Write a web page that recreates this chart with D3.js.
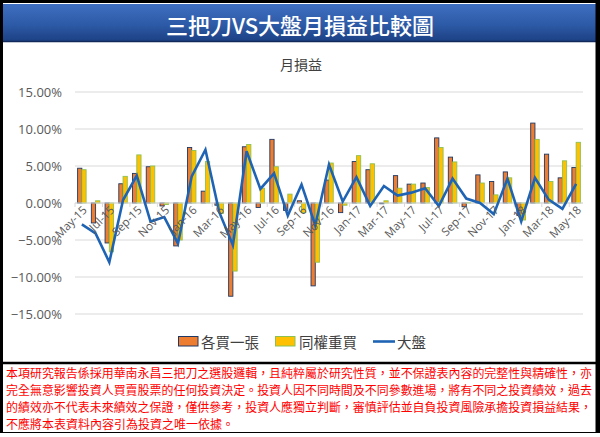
<!DOCTYPE html>
<html><head><meta charset="utf-8">
<script src="https://cdn.jsdelivr.net/npm/d3@7"></script>
<style>
html,body{margin:0;padding:0;background:#fff;}
svg{display:block;}
</style></head>
<body>
<svg id="chart" width="600" height="437"></svg>
<script>
const months = ["May-15","Jun-15","Jul-15","Aug-15","Sep-15","Oct-15","Nov-15","Dec-15","Jan-16","Feb-16","Mar-16","Apr-16","May-16","Jun-16","Jul-16","Aug-16","Sep-16","Oct-16","Nov-16","Dec-16","Jan-17","Feb-17","Mar-17","Apr-17","May-17","Jun-17","Jul-17","Aug-17","Sep-17","Oct-17","Nov-17","Dec-17","Jan-18","Feb-18","Mar-18","Apr-18","May-18"];
const eachBuy = [4.7,-2.7,-5.4,2.6,4.0,4.9,-0.4,-5.8,7.5,1.6,-0.3,-12.6,7.6,-0.6,8.6,-1.0,0.3,-11.2,3.1,-1.3,5.6,4.5,-0.1,3.7,2.55,2.7,8.8,6.2,-0.5,3.8,2.9,4.2,-1.7,10.8,6.6,3.4,4.8];
const equalWeight = [4.5,0.3,-6.6,3.6,6.5,5.0,-0.2,-5.0,7.1,5.6,-1.4,-9.2,7.9,2.0,4.9,1.2,-1.3,-8.0,5.4,-0.3,6.4,5.3,0.3,2.0,2.55,2.1,7.5,5.55,0.05,2.7,1.1,3.4,-2.3,8.6,2.9,5.7,8.2];
const market = [-2.9,-4.1,-8.0,0.4,3.7,-2.5,-1.9,-5.5,3.6,7.2,-1.2,-5.7,7.0,1.9,4.0,-1.7,2.5,-3.0,5.2,0.2,3.5,-0.4,2.3,1.0,1.4,2.0,-0.4,3.3,0.6,0.0,-1.5,3.3,-2.5,3.4,0.45,-0.8,2.6];
const yTicks = [-15,-10,-5,0,5,10,15];
const seriesNames = ["各買一張","同權重買","大盤"];
const bannerTitle = "三把刀VS大盤月損益比較圖";
const chartTitle = "月損益";
const disclaimer = [
 "本項研究報告係採用華南永昌三把刀之選股邏輯，且純粹屬於研究性質，並不保證表內容的完整性與精確性，亦",
 "完全無意影響投資人買賣股票的任何投資決定。投資人因不同時間及不同參數進場，將有不同之投資績效，過去",
 "的績效亦不代表未來績效之保證，僅供參考，投資人應獨立判斷，審慎評估並自負投資風險承擔投資損益結果，",
 "不應將本表資料內容引為投資之唯一依據。"
];

const svg = d3.select("#chart");
const cjk = "'Noto Sans CJK TC','Noto Sans CJK SC',sans-serif";
const latin = "'Open Sans','Segoe UI','Noto Sans',sans-serif";

// gradient banner
const defs = svg.append("defs");
const g1 = defs.append("linearGradient").attr("id","ban").attr("x1",0).attr("y1",0).attr("x2",0).attr("y2",1);
g1.append("stop").attr("offset","0%").attr("stop-color","#3f6fc2");
g1.append("stop").attr("offset","55%").attr("stop-color","#2d5aa6");
g1.append("stop").attr("offset","100%").attr("stop-color","#1b3f82");

svg.append("rect").attr("x",0).attr("y",0).attr("width",600).attr("height",437).attr("fill","#fff");
svg.append("rect").attr("x",2).attr("y",4).attr("width",594).attr("height",38).attr("fill","url(#ban)");
svg.append("line").attr("x1",2).attr("x2",596).attr("y1",41.5).attr("y2",41.5).attr("stroke","#10295a").attr("stroke-width",1.5);
svg.append("text").attr("x",300).attr("y",24).attr("text-anchor","middle").attr("dominant-baseline","central")
  .attr("fill","#fff").attr("font-family",cjk).attr("font-size",22).attr("font-weight",500).text(bannerTitle);

// chart title
svg.append("text").attr("x",301).attr("y",64).attr("text-anchor","middle").attr("dominant-baseline","central")
  .attr("fill","#404040").attr("font-family",cjk).attr("font-size",14).text(chartTitle);

const x = d3.scaleBand().domain(months).range([75,583]).padding(0);
const y = d3.scaleLinear().domain([-15,15]).range([314,92]);

// gridlines
svg.append("g").selectAll("line").data(yTicks).join("line")
  .attr("x1",75).attr("x2",583).attr("y1",d=>y(d)).attr("y2",d=>y(d))
  .attr("stroke","#d9d9d9").attr("stroke-width",1);

// y axis labels
const yAxis = d3.axisLeft(y).tickValues(yTicks).tickSize(0).tickPadding(0).tickFormat(d=>d3.format(".2f")(d)+"%");
const ya = svg.append("g").attr("transform","translate(62,0)").call(yAxis);
ya.select(".domain").remove();
ya.selectAll("text").attr("font-family",latin).attr("font-size",13).attr("fill","#595959");

// bars
const step = x.step();
const bw = step*0.31;
const bars = svg.append("g");
bars.selectAll("rect.o").data(months).join("rect").attr("class","o")
  .attr("x",(d)=>x(d)+step/2-bw)
  .attr("width",bw)
  .attr("y",(d,i)=>y(Math.max(0,eachBuy[i])))
  .attr("height",(d,i)=>Math.abs(y(eachBuy[i])-y(0)))
  .attr("fill","#ed7d31").attr("stroke","#203864").attr("stroke-width",0.9);
bars.selectAll("rect.yl").data(months).join("rect").attr("class","yl")
  .attr("x",(d)=>x(d)+step/2)
  .attr("width",bw)
  .attr("y",(d,i)=>y(Math.max(0,equalWeight[i])))
  .attr("height",(d,i)=>Math.abs(y(equalWeight[i])-y(0)))
  .attr("fill","#ffc000").attr("stroke","#8cc152").attr("stroke-width",0.9);

// x axis line & ticks
svg.append("line").attr("x1",75).attr("x2",583).attr("y1",y(0)).attr("y2",y(0)).attr("stroke","#d9d9d9");
const tickIdx = d3.range(0,months.length+1,2);
svg.append("g").selectAll("line").data(tickIdx).join("line")
  .attr("x1",i=>75+i*step).attr("x2",i=>75+i*step).attr("y1",y(0)).attr("y2",y(0)+4)
  .attr("stroke","#d9d9d9");

// line
const line = d3.line().x((d,i)=>x(months[i])+step/2).y(d=>y(d));
svg.append("path").datum(market).attr("d",line).attr("fill","none")
  .attr("stroke","#1f64b4").attr("stroke-width",2.6).attr("stroke-linejoin","miter");

// x labels
svg.append("g").selectAll("text").data(months.filter((d,i)=>i%2===0)).join("text")
  .attr("transform",d=>`translate(${x(d)+step/2+3},${y(0)+5}) rotate(-45)`)
  .attr("text-anchor","end").attr("dy","0.35em")
  .attr("font-family",latin).attr("font-size",11.5).attr("fill","#595959").text(d=>d);

// legend
const lg = svg.append("g");
lg.append("rect").attr("x",178.5).attr("y",336.5).attr("width",19.5).attr("height",9.5).attr("fill","#ed7d31").attr("stroke","#203864").attr("stroke-width",1);
lg.append("text").attr("x",201).attr("y",341.5).attr("dominant-baseline","central").attr("font-family",cjk).attr("font-size",14.5).attr("fill","#404040").text(seriesNames[0]);
lg.append("rect").attr("x",275.5).attr("y",336.5).attr("width",19.5).attr("height",9.5).attr("fill","#ffc000").attr("stroke","#8cc152").attr("stroke-width",1);
lg.append("text").attr("x",299).attr("y",341.5).attr("dominant-baseline","central").attr("font-family",cjk).attr("font-size",14.5).attr("fill","#404040").text(seriesNames[1]);
lg.append("line").attr("x1",373).attr("x2",395).attr("y1",341.5).attr("y2",341.5).attr("stroke","#1f64b4").attr("stroke-width",2.6);
lg.append("text").attr("x",397).attr("y",341.5).attr("dominant-baseline","central").attr("font-family",cjk).attr("font-size",14.5).attr("fill","#404040").text(seriesNames[2]);

// footer
svg.append("line").attr("x1",0).attr("x2",600).attr("y1",363).attr("y2",363).attr("stroke","#000").attr("stroke-width",2.5);
svg.append("g").selectAll("text").data(disclaimer).join("text")
  .attr("x",6).attr("y",(d,i)=>377.5+i*17.3)
  .attr("font-family",cjk).attr("font-size",12).attr("fill","#ff0000")
  .each(function(d,i){ if(i<3) d3.select(this).attr("textLength",586).attr("lengthAdjust","spacingAndGlyphs"); })
  .text(d=>d);

// outer frame
svg.append("rect").attr("x",1.5).attr("y",1.5).attr("width",595.5).attr("height",432).attr("fill","none").attr("stroke","#000").attr("stroke-width",3);
svg.append("rect").attr("x",597).attr("y",0).attr("width",3).attr("height",437).attr("fill","#000");
svg.append("rect").attr("x",0).attr("y",433).attr("width",600).attr("height",4).attr("fill","#fff");
</script>
</body></html>
